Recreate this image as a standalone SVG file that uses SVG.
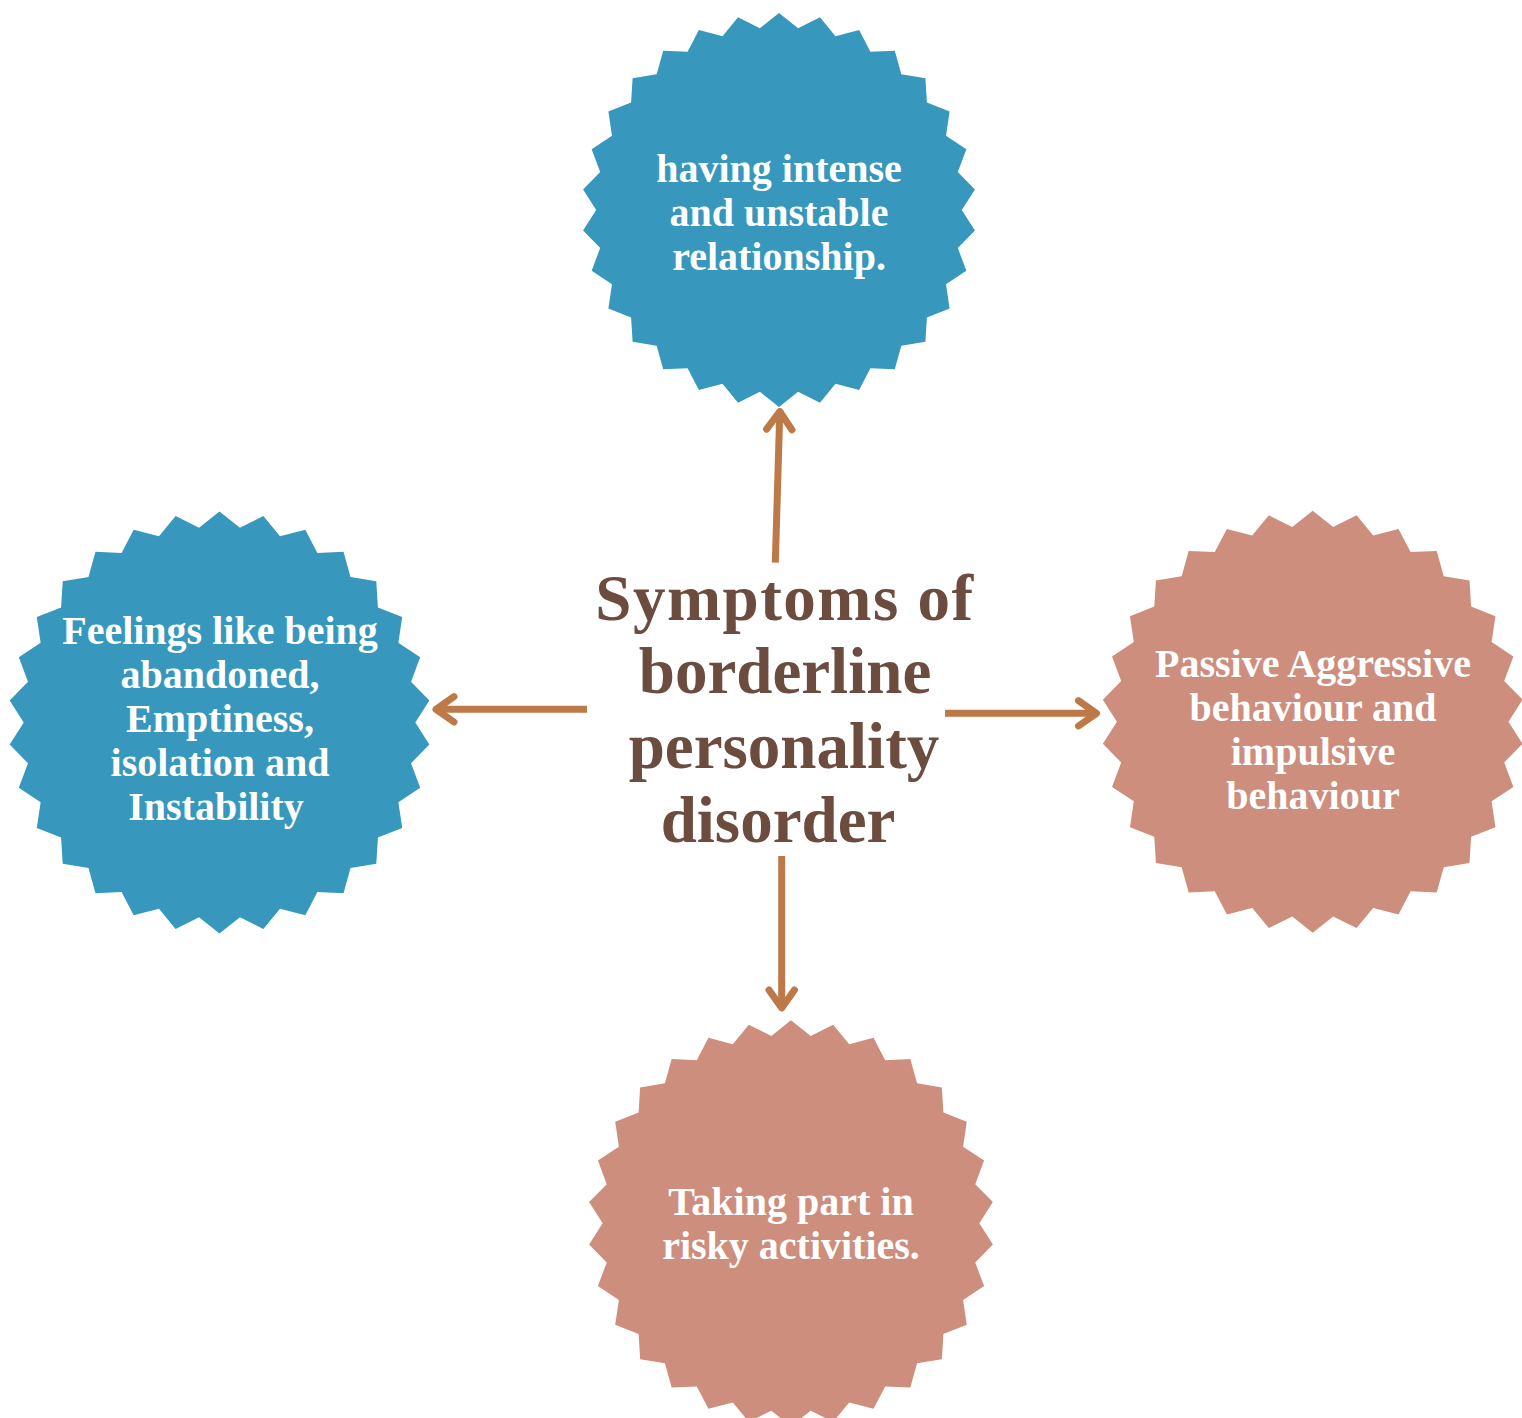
<svg xmlns="http://www.w3.org/2000/svg" xmlns:xlink="http://www.w3.org/1999/xlink" width="1522" height="1418" viewBox="0 0 1522 1418">
<style>
  .blue { fill: #3897BD; }
  .pink { fill: #CD8E7D; }
  .label { font-family: "Liberation Serif", "Times New Roman", serif; font-weight: 700; font-size: 40px; fill: #FFFFFF; text-anchor: middle; }
  .title { font-family: "Liberation Serif", "Times New Roman", serif; font-weight: 700; font-size: 65px; fill: #6B4C3E; text-anchor: middle; }
  .conn { fill: none; stroke: #BD7947; stroke-width: 7; stroke-linecap: butt; }
</style>
<defs>
  <polygon id="star" points="0,-100 9.70,-92.29 20.79,-97.82 28.68,-88.26 40.67,-91.36 46.40,-80.37 58.78,-80.90 62.10,-68.96 74.31,-66.91 75.08,-54.55 86.60,-50 84.78,-37.75 95.11,-30.90 90.77,-19.29 99.45,-10.45 92.8,0 99.45,10.45 90.77,19.29 95.11,30.90 84.78,37.75 86.60,50 75.08,54.55 74.31,66.91 62.10,68.96 58.78,80.90 46.40,80.37 40.67,91.36 28.68,88.26 20.79,97.82 9.70,92.29 0,100 -9.70,92.29 -20.79,97.82 -28.68,88.26 -40.67,91.36 -46.40,80.37 -58.78,80.90 -62.10,68.96 -74.31,66.91 -75.08,54.55 -86.60,50 -84.78,37.75 -95.11,30.90 -90.77,19.29 -99.45,10.45 -92.8,0 -99.45,-10.45 -90.77,-19.29 -95.11,-30.90 -84.78,-37.75 -86.60,-50 -75.08,-54.55 -74.31,-66.91 -62.10,-68.96 -58.78,-80.90 -46.40,-80.37 -40.67,-91.36 -28.68,-88.26 -20.79,-97.82 -9.70,-92.29"/>
  <marker id="arrow" markerUnits="userSpaceOnUse" viewBox="-30 -20 40 40" markerWidth="40" markerHeight="40" refX="0" refY="0" orient="auto" overflow="visible">
    <path d="M-18,-12.7 L0,0 L-18,12.7" fill="none" stroke="#BD7947" stroke-width="7" stroke-linecap="round" stroke-linejoin="round"/>
  </marker>
</defs>
<rect x="0" y="0" width="1522" height="1418" fill="#FFFFFF"/>

<g id="node-top">
  <use href="#star" xlink:href="#star" class="blue" transform="translate(779 210) scale(1.97)"/>
  <text class="label" x="779" y="182">having intense</text>
  <text class="label" x="779" y="226">and unstable</text>
  <text class="label" x="779" y="270">relationship.</text>
</g>

<g id="node-left">
  <use href="#star" xlink:href="#star" class="blue" transform="translate(219.5 722.5) scale(2.11)"/>
  <text class="label" x="220" y="644">Feelings like being</text>
  <text class="label" x="220" y="688">abandoned,</text>
  <text class="label" x="220" y="732">Emptiness,</text>
  <text class="label" x="220" y="776">isolation and</text>
  <text class="label" x="216" y="820">Instability</text>
</g>

<g id="node-right">
  <use href="#star" xlink:href="#star" class="pink" transform="translate(1312.7 721.7) scale(2.11)"/>
  <text class="label" x="1313" y="677">Passive Aggressive</text>
  <text class="label" x="1313" y="721">behaviour and</text>
  <text class="label" x="1313" y="765">impulsive</text>
  <text class="label" x="1313" y="809">behaviour</text>
</g>

<g id="node-bottom">
  <use href="#star" xlink:href="#star" class="pink" transform="translate(791 1223.3) scale(2.03)"/>
  <text class="label" x="791" y="1215">Taking part in</text>
  <text class="label" x="791" y="1259">risky activities.</text>
</g>

<g id="node-center">
  <text class="title" x="785" y="620" letter-spacing="1.5">Symptoms of</text>
  <text class="title" x="785" y="693">borderline</text>
  <text class="title" x="784" y="768">personality</text>
  <text class="title" x="778" y="842">disorder</text>
</g>

<g id="connectors">
  <path class="conn" d="M775.3,562.7 L779.8,411.5" marker-end="url(#arrow)"/>
  <path class="conn" d="M587,709.3 L436,709.3" marker-end="url(#arrow)"/>
  <path class="conn" d="M945,713.3 L1096.5,713.3" marker-end="url(#arrow)"/>
  <path class="conn" d="M781.7,856 L781.7,1008" marker-end="url(#arrow)"/>
</g>
</svg>
